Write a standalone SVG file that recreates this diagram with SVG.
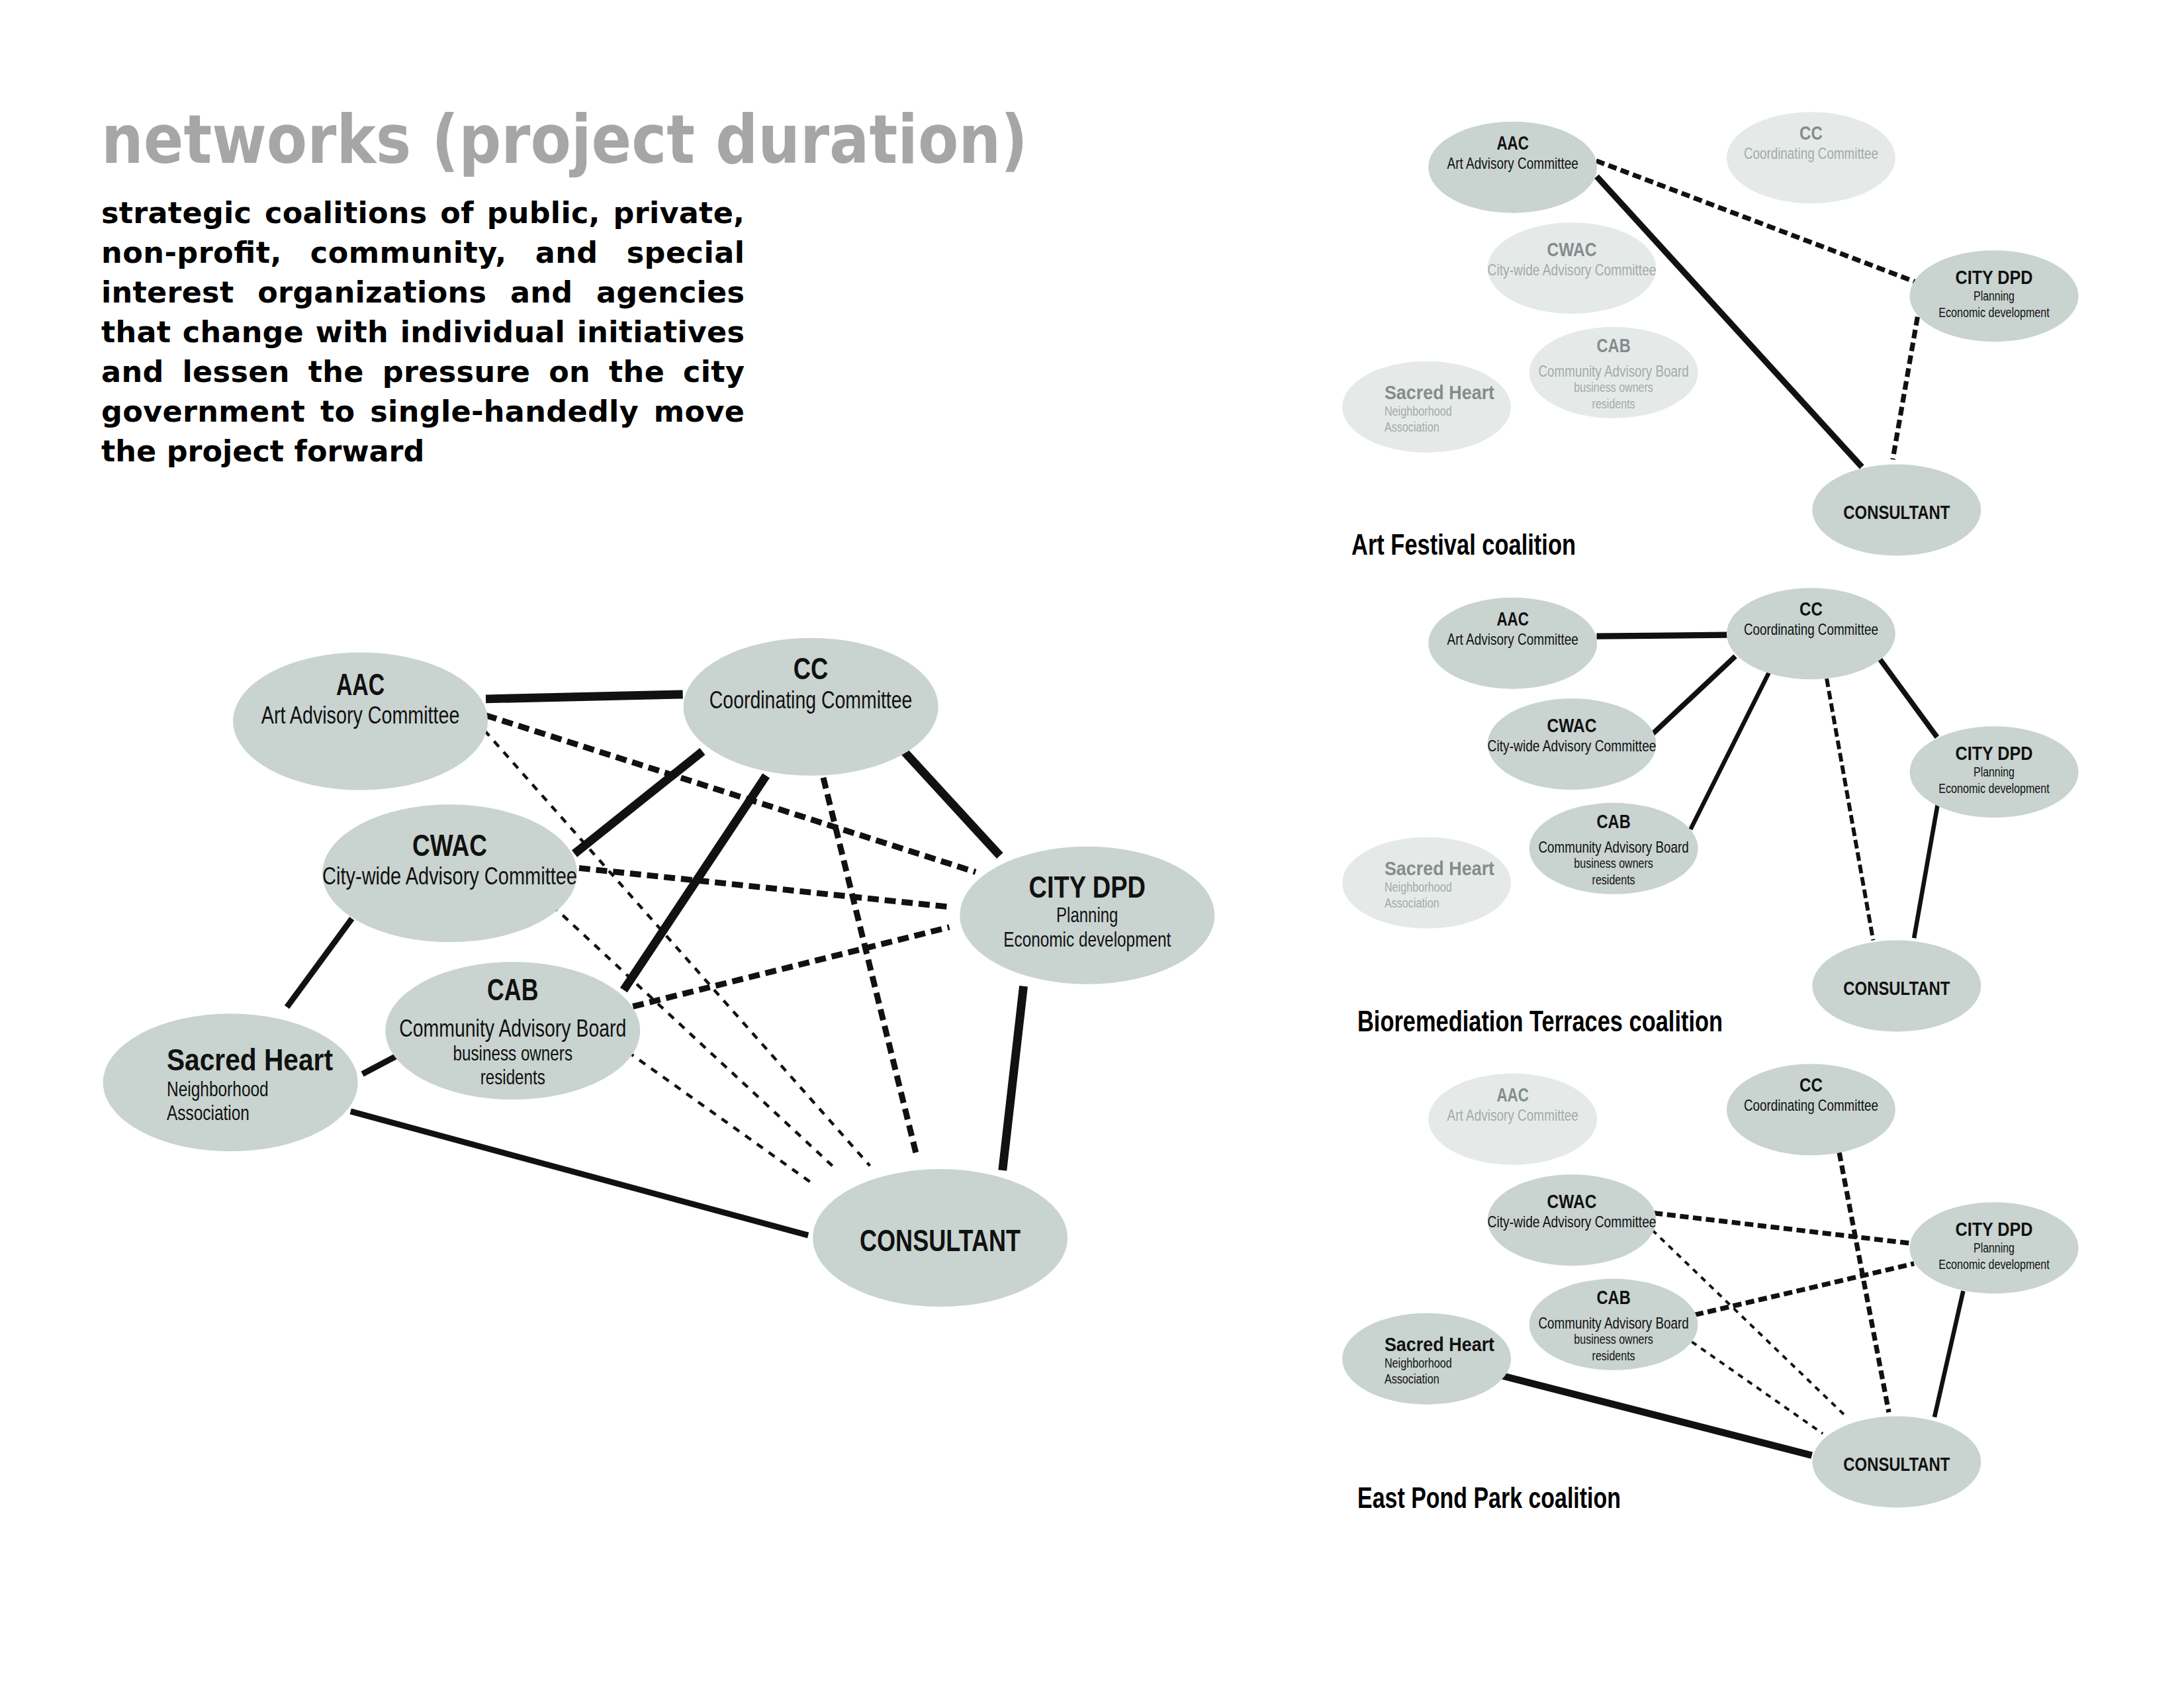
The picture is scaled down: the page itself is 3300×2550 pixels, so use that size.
<svg xmlns="http://www.w3.org/2000/svg" width="3300" height="2550" viewBox="0 0 3300 2550">
<style>
  .bg{fill:#ffffff}
  .title{font-family:"DejaVu Sans","Liberation Sans",sans-serif;font-weight:bold;font-size:102px;fill:#a6a6a6}
  .body{font-family:"DejaVu Sans","Liberation Sans",sans-serif;font-weight:bold;font-size:44.5px;fill:#000}
  .cap{font-family:"Liberation Sans",Arial,sans-serif;font-weight:bold;font-size:45px;fill:#000}
  .node ellipse{fill:#c9d3d0}
  .node text{font-family:"Liberation Sans",Arial,sans-serif;fill:#111;text-anchor:middle}
  .node .t{font-weight:bold;font-size:46px}
  .node .s{font-size:37px}
  .node .s2{font-size:32px}
  .node .l{text-anchor:start}
  .fade ellipse{fill:#e5eae9}
  .fade .t{fill:#838d8b}
  .fade .s,.fade .s2{fill:#a2aaa8}
  .solid{stroke:#111;fill:none;stroke-width:13}
  .solid2{stroke:#111;fill:none;stroke-width:9}
  .dash{stroke:#111;fill:none;stroke-width:9;stroke-dasharray:17 9}
  .thin{stroke:#111;fill:none;stroke-width:4.5;stroke-dasharray:11 11}
  .pdash{stroke:#111;fill:none;stroke-width:11;stroke-dasharray:20 10}
  .pdash2{stroke:#111;fill:none;stroke-width:9;stroke-dasharray:20 9}
  .pthin{stroke:#111;fill:none;stroke-width:6;stroke-dasharray:13 13}
</style>
<rect class="bg" x="0" y="0" width="3300" height="2550"/>

<g id="heading">
  <text class="title" x="153" y="246" textLength="1400" lengthAdjust="spacingAndGlyphs">networks (project duration)</text>
  <text class="body" x="153" y="337" word-spacing="4" textLength="972" lengthAdjust="spacing">strategic coalitions of public, private,</text>
  <text class="body" x="153" y="397" word-spacing="27" textLength="972" lengthAdjust="spacing">non-profit, community, and special</text>
  <text class="body" x="153" y="457" word-spacing="20" textLength="972" lengthAdjust="spacing">interest organizations and agencies</text>
  <text class="body" x="153" y="517" word-spacing="2" textLength="972" lengthAdjust="spacing">that change with individual initiatives</text>
  <text class="body" x="153" y="577" word-spacing="12" textLength="972" lengthAdjust="spacing">and lessen the pressure on the city</text>
  <text class="body" x="153" y="637" word-spacing="7" textLength="972" lengthAdjust="spacing">government to single-handedly move</text>
  <text class="body" x="153" y="697">the project forward</text>
</g>

<!-- MAIN DIAGRAM -->
<g id="main" transform="scale(0.992 0.9905)">
  <g id="main-connectors">
    <line class="solid" x1="740" y1="1066" x2="1040" y2="1059"/>
    <line class="solid" x1="1070" y1="1146" x2="875" y2="1302"/>
    <line class="solid" x1="1167" y1="1183" x2="950" y2="1510"/>
    <line class="solid" x1="1378" y1="1147" x2="1523" y2="1305"/>
    <line class="solid" x1="1559" y1="1504" x2="1527" y2="1785"/>
    <line class="solid2" x1="534" y1="1695" x2="1231" y2="1884"/>
    <line class="solid2" x1="536" y1="1401" x2="437" y2="1536"/>
    <line class="solid2" x1="552" y1="1638" x2="603" y2="1611"/>
    <line class="dash" x1="740" y1="1091" x2="1486" y2="1330"/>
    <line class="dash" x1="882" y1="1324" x2="1444" y2="1383"/>
    <line class="dash" x1="964" y1="1535" x2="1446" y2="1414"/>
    <line class="dash" x1="1254" y1="1186" x2="1395" y2="1758"/>
    <line class="thin" x1="738" y1="1114" x2="1325" y2="1778"/>
    <line class="thin" x1="841" y1="1381" x2="1271" y2="1781"/>
    <line class="thin" x1="956" y1="1604" x2="1236" y2="1804"/>
  </g>
  <g id="m-aac" class="node"><ellipse cx="549" cy="1100" rx="194" ry="105"/><text class="t" x="549" y="1060" textLength="74" lengthAdjust="spacingAndGlyphs">AAC</text><text class="s" x="549" y="1103" textLength="302" lengthAdjust="spacingAndGlyphs">Art Advisory Committee</text></g>
  <g id="m-cc" class="node"><ellipse cx="1235" cy="1078" rx="194" ry="105"/><text class="t" x="1235" y="1036" textLength="53" lengthAdjust="spacingAndGlyphs">CC</text><text class="s" x="1235" y="1080" textLength="309" lengthAdjust="spacingAndGlyphs">Coordinating Committee</text></g>
  <g id="m-cwac" class="node"><ellipse cx="685" cy="1332" rx="194" ry="105"/><text class="t" x="685" y="1305" textLength="114" lengthAdjust="spacingAndGlyphs">CWAC</text><text class="s" x="685" y="1349" textLength="388" lengthAdjust="spacingAndGlyphs">City-wide Advisory Committee</text></g>
  <g id="m-cab" class="node"><ellipse cx="781" cy="1572" rx="194" ry="105"/><text class="t" x="781" y="1525" textLength="78" lengthAdjust="spacingAndGlyphs">CAB</text><text class="s" x="781" y="1581" textLength="346" lengthAdjust="spacingAndGlyphs">Community Advisory Board</text><text class="s2" x="781" y="1617" textLength="182" lengthAdjust="spacingAndGlyphs">business owners</text><text class="s2" x="781" y="1654" textLength="99" lengthAdjust="spacingAndGlyphs">residents</text></g>
  <g id="m-sh" class="node"><ellipse cx="351" cy="1651" rx="194" ry="105"/><text class="t l" x="254" y="1633" textLength="253" lengthAdjust="spacingAndGlyphs">Sacred Heart</text><text class="s2 l" x="254" y="1672" textLength="155" lengthAdjust="spacingAndGlyphs">Neighborhood</text><text class="s2 l" x="254" y="1708" textLength="126" lengthAdjust="spacingAndGlyphs">Association</text></g>
  <g id="m-dpd" class="node"><ellipse cx="1656" cy="1396" rx="194" ry="105"/><text class="t" x="1656" y="1369" textLength="178" lengthAdjust="spacingAndGlyphs">CITY DPD</text><text class="s2" x="1656" y="1406" textLength="94" lengthAdjust="spacingAndGlyphs">Planning</text><text class="s2" x="1656" y="1444" textLength="255" lengthAdjust="spacingAndGlyphs">Economic development</text></g>
  <g id="m-cons" class="node"><ellipse cx="1432" cy="1888" rx="194" ry="105"/><text class="t" x="1432" y="1908" textLength="245" lengthAdjust="spacingAndGlyphs">CONSULTANT</text></g>
</g>

<!-- PANEL 1: Art Festival coalition -->
<g id="panel1" transform="translate(1925,-470) scale(0.657)">
  <g id="p1-connectors">
    <line class="solid" style="stroke-width:14" x1="742" y1="1121" x2="1352" y2="1789"/>
    <line class="pdash" x1="741" y1="1085" x2="1476" y2="1364"/>
    <line class="pdash" x1="1480" y1="1444" x2="1423" y2="1772"/>
  </g>
  <g id="p1-aac" class="node"><ellipse cx="549" cy="1100" rx="194" ry="105"/><text class="t" x="549" y="1060" textLength="74" lengthAdjust="spacingAndGlyphs">AAC</text><text class="s" x="549" y="1103" textLength="302" lengthAdjust="spacingAndGlyphs">Art Advisory Committee</text></g>
  <g id="p1-cc" class="node fade"><ellipse cx="1235" cy="1078" rx="194" ry="105"/><text class="t" x="1235" y="1036" textLength="53" lengthAdjust="spacingAndGlyphs">CC</text><text class="s" x="1235" y="1080" textLength="309" lengthAdjust="spacingAndGlyphs">Coordinating Committee</text></g>
  <g id="p1-cwac" class="node fade"><ellipse cx="685" cy="1332" rx="194" ry="105"/><text class="t" x="685" y="1305" textLength="114" lengthAdjust="spacingAndGlyphs">CWAC</text><text class="s" x="685" y="1349" textLength="388" lengthAdjust="spacingAndGlyphs">City-wide Advisory Committee</text></g>
  <g id="p1-cab" class="node fade"><ellipse cx="781" cy="1572" rx="194" ry="105"/><text class="t" x="781" y="1525" textLength="78" lengthAdjust="spacingAndGlyphs">CAB</text><text class="s" x="781" y="1581" textLength="346" lengthAdjust="spacingAndGlyphs">Community Advisory Board</text><text class="s2" x="781" y="1617" textLength="182" lengthAdjust="spacingAndGlyphs">business owners</text><text class="s2" x="781" y="1654" textLength="99" lengthAdjust="spacingAndGlyphs">residents</text></g>
  <g id="p1-sh" class="node fade"><ellipse cx="351" cy="1651" rx="194" ry="105"/><text class="t l" x="254" y="1633" textLength="253" lengthAdjust="spacingAndGlyphs">Sacred Heart</text><text class="s2 l" x="254" y="1672" textLength="155" lengthAdjust="spacingAndGlyphs">Neighborhood</text><text class="s2 l" x="254" y="1708" textLength="126" lengthAdjust="spacingAndGlyphs">Association</text></g>
  <g id="p1-dpd" class="node"><ellipse cx="1656" cy="1396" rx="194" ry="105"/><text class="t" x="1656" y="1369" textLength="178" lengthAdjust="spacingAndGlyphs">CITY DPD</text><text class="s2" x="1656" y="1406" textLength="94" lengthAdjust="spacingAndGlyphs">Planning</text><text class="s2" x="1656" y="1444" textLength="255" lengthAdjust="spacingAndGlyphs">Economic development</text></g>
  <g id="p1-cons" class="node"><ellipse cx="1432" cy="1888" rx="194" ry="105"/><text class="t" x="1432" y="1908" textLength="245" lengthAdjust="spacingAndGlyphs">CONSULTANT</text></g>
</g>
<text class="cap" x="2042" y="838" textLength="339" lengthAdjust="spacingAndGlyphs">Art Festival coalition</text>

<!-- PANEL 2: Bioremediation Terraces coalition -->
<g id="panel2" transform="translate(1925,249) scale(0.657)">
  <g id="p2-connectors">
    <line class="solid" style="stroke-width:14" x1="742" y1="1084" x2="1042" y2="1081"/>
    <line class="solid" style="stroke-width:12" x1="1061" y1="1130" x2="870" y2="1309"/>
    <line class="solid" style="stroke-width:10" x1="1138" y1="1168" x2="958" y2="1528"/>
    <line class="solid" style="stroke-width:12" x1="1393" y1="1136" x2="1525" y2="1316"/>
    <line class="solid" style="stroke-width:10" x1="1526" y1="1472" x2="1472" y2="1778"/>
    <line class="pdash2" x1="1271" y1="1181" x2="1378" y2="1783"/>
  </g>
  <g id="p2-aac" class="node"><ellipse cx="549" cy="1100" rx="194" ry="105"/><text class="t" x="549" y="1060" textLength="74" lengthAdjust="spacingAndGlyphs">AAC</text><text class="s" x="549" y="1103" textLength="302" lengthAdjust="spacingAndGlyphs">Art Advisory Committee</text></g>
  <g id="p2-cc" class="node"><ellipse cx="1235" cy="1078" rx="194" ry="105"/><text class="t" x="1235" y="1036" textLength="53" lengthAdjust="spacingAndGlyphs">CC</text><text class="s" x="1235" y="1080" textLength="309" lengthAdjust="spacingAndGlyphs">Coordinating Committee</text></g>
  <g id="p2-cwac" class="node"><ellipse cx="685" cy="1332" rx="194" ry="105"/><text class="t" x="685" y="1305" textLength="114" lengthAdjust="spacingAndGlyphs">CWAC</text><text class="s" x="685" y="1349" textLength="388" lengthAdjust="spacingAndGlyphs">City-wide Advisory Committee</text></g>
  <g id="p2-cab" class="node"><ellipse cx="781" cy="1572" rx="194" ry="105"/><text class="t" x="781" y="1525" textLength="78" lengthAdjust="spacingAndGlyphs">CAB</text><text class="s" x="781" y="1581" textLength="346" lengthAdjust="spacingAndGlyphs">Community Advisory Board</text><text class="s2" x="781" y="1617" textLength="182" lengthAdjust="spacingAndGlyphs">business owners</text><text class="s2" x="781" y="1654" textLength="99" lengthAdjust="spacingAndGlyphs">residents</text></g>
  <g id="p2-sh" class="node fade"><ellipse cx="351" cy="1651" rx="194" ry="105"/><text class="t l" x="254" y="1633" textLength="253" lengthAdjust="spacingAndGlyphs">Sacred Heart</text><text class="s2 l" x="254" y="1672" textLength="155" lengthAdjust="spacingAndGlyphs">Neighborhood</text><text class="s2 l" x="254" y="1708" textLength="126" lengthAdjust="spacingAndGlyphs">Association</text></g>
  <g id="p2-dpd" class="node"><ellipse cx="1656" cy="1396" rx="194" ry="105"/><text class="t" x="1656" y="1369" textLength="178" lengthAdjust="spacingAndGlyphs">CITY DPD</text><text class="s2" x="1656" y="1406" textLength="94" lengthAdjust="spacingAndGlyphs">Planning</text><text class="s2" x="1656" y="1444" textLength="255" lengthAdjust="spacingAndGlyphs">Economic development</text></g>
  <g id="p2-cons" class="node"><ellipse cx="1432" cy="1888" rx="194" ry="105"/><text class="t" x="1432" y="1908" textLength="245" lengthAdjust="spacingAndGlyphs">CONSULTANT</text></g>
</g>
<text class="cap" x="2051" y="1558" textLength="552" lengthAdjust="spacingAndGlyphs">Bioremediation Terraces coalition</text>

<!-- PANEL 3: East Pond Park coalition -->
<g id="panel3" transform="translate(1925,968) scale(0.657)">
  <g id="p3-connectors">
    <line class="pdash" x1="1300" y1="1177" x2="1414" y2="1774"/>
    <line class="pdash" x1="874" y1="1316" x2="1460" y2="1385"/>
    <line class="pdash" x1="968" y1="1550" x2="1472" y2="1432"/>
    <line class="pthin" x1="870" y1="1355" x2="1318" y2="1786"/>
    <line class="pthin" x1="961" y1="1612" x2="1262" y2="1823"/>
    <line class="solid" style="stroke-width:16" x1="525" y1="1690" x2="1237" y2="1873"/>
    <line class="solid" style="stroke-width:10" x1="1585" y1="1495" x2="1519" y2="1785"/>
  </g>
  <g id="p3-aac" class="node fade"><ellipse cx="549" cy="1100" rx="194" ry="105"/><text class="t" x="549" y="1060" textLength="74" lengthAdjust="spacingAndGlyphs">AAC</text><text class="s" x="549" y="1103" textLength="302" lengthAdjust="spacingAndGlyphs">Art Advisory Committee</text></g>
  <g id="p3-cc" class="node"><ellipse cx="1235" cy="1078" rx="194" ry="105"/><text class="t" x="1235" y="1036" textLength="53" lengthAdjust="spacingAndGlyphs">CC</text><text class="s" x="1235" y="1080" textLength="309" lengthAdjust="spacingAndGlyphs">Coordinating Committee</text></g>
  <g id="p3-cwac" class="node"><ellipse cx="685" cy="1332" rx="194" ry="105"/><text class="t" x="685" y="1305" textLength="114" lengthAdjust="spacingAndGlyphs">CWAC</text><text class="s" x="685" y="1349" textLength="388" lengthAdjust="spacingAndGlyphs">City-wide Advisory Committee</text></g>
  <g id="p3-cab" class="node"><ellipse cx="781" cy="1572" rx="194" ry="105"/><text class="t" x="781" y="1525" textLength="78" lengthAdjust="spacingAndGlyphs">CAB</text><text class="s" x="781" y="1581" textLength="346" lengthAdjust="spacingAndGlyphs">Community Advisory Board</text><text class="s2" x="781" y="1617" textLength="182" lengthAdjust="spacingAndGlyphs">business owners</text><text class="s2" x="781" y="1654" textLength="99" lengthAdjust="spacingAndGlyphs">residents</text></g>
  <g id="p3-sh" class="node"><ellipse cx="351" cy="1651" rx="194" ry="105"/><text class="t l" x="254" y="1633" textLength="253" lengthAdjust="spacingAndGlyphs">Sacred Heart</text><text class="s2 l" x="254" y="1672" textLength="155" lengthAdjust="spacingAndGlyphs">Neighborhood</text><text class="s2 l" x="254" y="1708" textLength="126" lengthAdjust="spacingAndGlyphs">Association</text></g>
  <g id="p3-dpd" class="node"><ellipse cx="1656" cy="1396" rx="194" ry="105"/><text class="t" x="1656" y="1369" textLength="178" lengthAdjust="spacingAndGlyphs">CITY DPD</text><text class="s2" x="1656" y="1406" textLength="94" lengthAdjust="spacingAndGlyphs">Planning</text><text class="s2" x="1656" y="1444" textLength="255" lengthAdjust="spacingAndGlyphs">Economic development</text></g>
  <g id="p3-cons" class="node"><ellipse cx="1432" cy="1888" rx="194" ry="105"/><text class="t" x="1432" y="1908" textLength="245" lengthAdjust="spacingAndGlyphs">CONSULTANT</text></g>
</g>
<text class="cap" x="2051" y="2278" textLength="398" lengthAdjust="spacingAndGlyphs">East Pond Park coalition</text>
</svg>
